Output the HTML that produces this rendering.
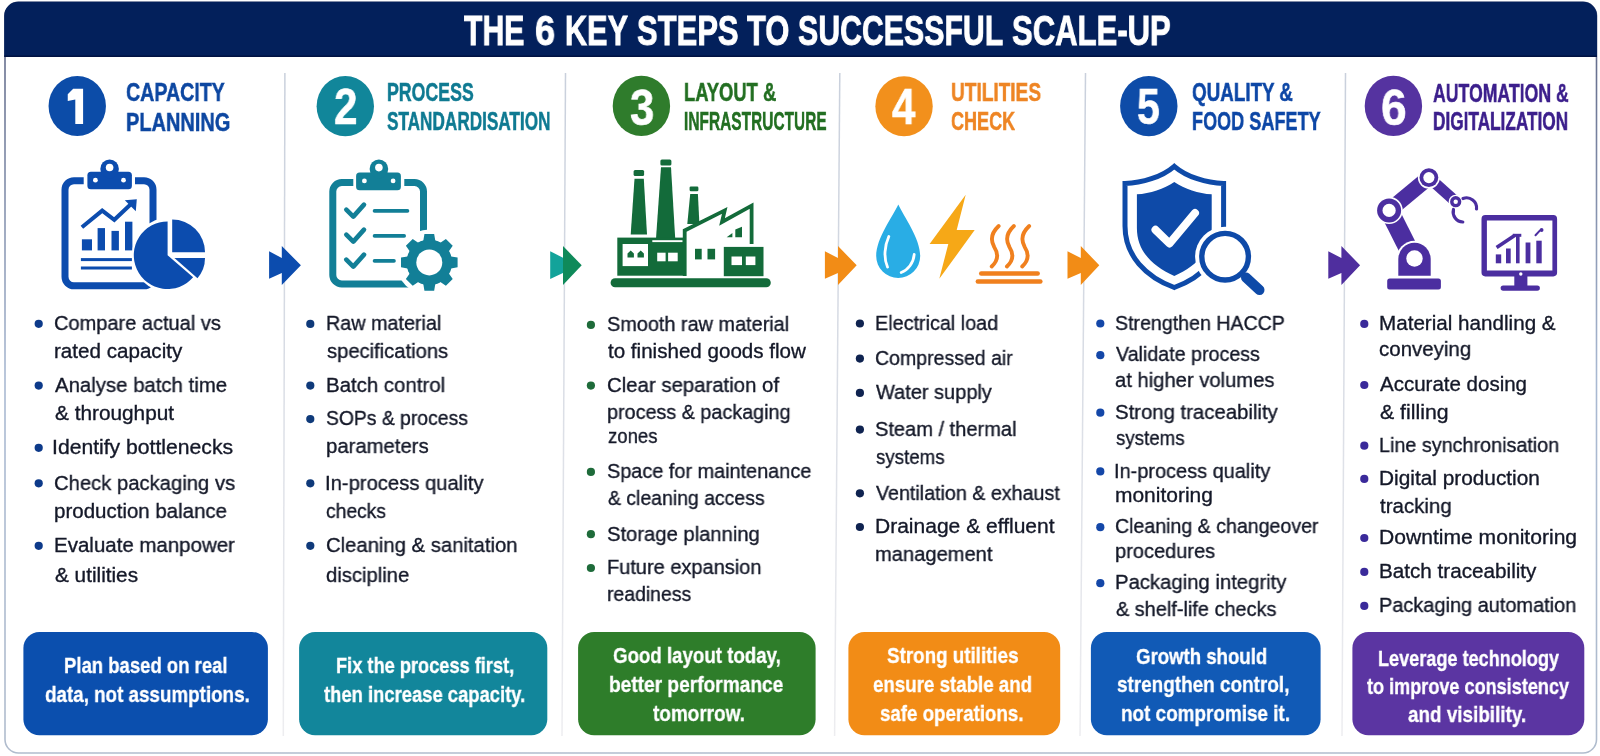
<!DOCTYPE html><html><head><meta charset="utf-8"><style>
html,body{margin:0;padding:0;width:1600px;height:756px;overflow:hidden;background:#ffffff;}
.t{position:absolute;white-space:pre;line-height:1;transform-origin:0 0;font-family:"Liberation Sans", sans-serif;will-change:transform;}
svg{position:absolute;left:0;top:0;}
</style></head><body>
<svg width="1600" height="756" viewBox="0 0 1600 756">
<defs><linearGradient id="dg" x1="0" y1="0" x2="0" y2="1"><stop offset="0" stop-color="#c9d0dc"/><stop offset="1" stop-color="#ededf0"/></linearGradient><linearGradient id="fg" x1="0" y1="0" x2="0" y2="1"><stop offset="0" stop-color="#5a6282"/><stop offset="0.5" stop-color="#a9b9d2"/><stop offset="1" stop-color="#b0bccd"/></linearGradient></defs>
<rect x="5" y="2.3" width="1591.5" height="750.7" rx="13.5" fill="#ffffff" stroke="url(#fg)" stroke-width="1.6"/>
<path d="M4.2 56.5 V15.8 A14 14 0 0 1 18.2 1.8 H1583 A14 14 0 0 1 1597 15.8 V56.5 Z" fill="#03205b"/>
<rect x="4.2" y="55.5" width="1592.8" height="1.5" fill="#011242"/>
<polygon points="284.15,73 285.65,73 284.05,736 282.55,736" fill="url(#dg)"/>
<polygon points="564.75,73 566.25,73 562.75,736 561.25,736" fill="url(#dg)"/>
<polygon points="839.05,73 840.55,73 835.35,736 833.85,736" fill="url(#dg)"/>
<polygon points="1084.75,73 1086.25,73 1080.75,736 1079.25,736" fill="url(#dg)"/>
<polygon points="1344.75,73 1346.25,73 1342.75,736 1341.25,736" fill="url(#dg)"/>
<ellipse cx="77.25" cy="106.0" rx="28.7" ry="30.1" fill="#0c4ca8"/>
<ellipse cx="345.3" cy="106.15" rx="28.7" ry="30.1" fill="#11869a"/>
<ellipse cx="641.4" cy="105.9" rx="28.7" ry="30.1" fill="#2f7c2c"/>
<ellipse cx="904.05" cy="106.25" rx="28.7" ry="30.1" fill="#f2901c"/>
<ellipse cx="1148.8" cy="106.1" rx="28.7" ry="30.1" fill="#0e4ca8"/>
<ellipse cx="1393.4" cy="105.9" rx="28.7" ry="30.1" fill="#5533a0"/>
<polygon points="73.2,88.75 83.1,88.75 83.1,124 75.3,124 75.3,99.6 67.75,101 67.75,94.2" fill="#fff"/>
<rect x="23.4" y="632" width="244.5" height="103.2" rx="16" fill="#0b4fae"/>
<rect x="299.1" y="632" width="248.2" height="103.2" rx="16" fill="#12869b"/>
<rect x="578.1" y="632" width="237.5" height="103.2" rx="16" fill="#2e7d2a"/>
<rect x="848.4" y="632" width="211.8" height="103.2" rx="16" fill="#f28c16"/>
<rect x="1090.9" y="632" width="229.7" height="103.2" rx="16" fill="#115ab6"/>
<rect x="1352.4" y="632" width="231.9" height="103.2" rx="16" fill="#5b35a2"/>
<circle cx="38.7" cy="323.8" r="4.1" fill="#0d3a8a"/>
<circle cx="38.7" cy="385.6" r="4.1" fill="#0d3a8a"/>
<circle cx="38.7" cy="447.8" r="4.1" fill="#0d3a8a"/>
<circle cx="38.7" cy="483.3" r="4.1" fill="#0d3a8a"/>
<circle cx="38.7" cy="545.8" r="4.1" fill="#0d3a8a"/>
<circle cx="310.3" cy="323.9" r="4.1" fill="#0f3a7a"/>
<circle cx="310.3" cy="385.6" r="4.1" fill="#0f3a7a"/>
<circle cx="310.3" cy="419.1" r="4.1" fill="#0f3a7a"/>
<circle cx="310.3" cy="483.3" r="4.1" fill="#0f3a7a"/>
<circle cx="310.3" cy="545.8" r="4.1" fill="#0f3a7a"/>
<circle cx="590.9" cy="324.9" r="4.1" fill="#1e6b3a"/>
<circle cx="590.9" cy="385.6" r="4.1" fill="#1e6b3a"/>
<circle cx="590.9" cy="471.9" r="4.1" fill="#1e6b3a"/>
<circle cx="590.9" cy="534.2" r="4.1" fill="#1e6b3a"/>
<circle cx="590.9" cy="568.0" r="4.1" fill="#1e6b3a"/>
<circle cx="859.9" cy="323.5" r="4.1" fill="#0f2350"/>
<circle cx="859.9" cy="358.6" r="4.1" fill="#0f2350"/>
<circle cx="859.9" cy="392.9" r="4.1" fill="#0f2350"/>
<circle cx="859.9" cy="429.6" r="4.1" fill="#0f2350"/>
<circle cx="859.9" cy="493.3" r="4.1" fill="#0f2350"/>
<circle cx="859.9" cy="527.0" r="4.1" fill="#0f2350"/>
<circle cx="1100.3" cy="323.5" r="4.1" fill="#1447a8"/>
<circle cx="1100.3" cy="355.2" r="4.1" fill="#1447a8"/>
<circle cx="1100.3" cy="412.7" r="4.1" fill="#1447a8"/>
<circle cx="1100.3" cy="471.4" r="4.1" fill="#1447a8"/>
<circle cx="1100.3" cy="527.2" r="4.1" fill="#1447a8"/>
<circle cx="1100.3" cy="583.2" r="4.1" fill="#1447a8"/>
<circle cx="1364.3" cy="323.9" r="4.1" fill="#3a2a9a"/>
<circle cx="1364.3" cy="385.0" r="4.1" fill="#3a2a9a"/>
<circle cx="1364.3" cy="445.7" r="4.1" fill="#3a2a9a"/>
<circle cx="1364.3" cy="478.9" r="4.1" fill="#3a2a9a"/>
<circle cx="1364.3" cy="538.0" r="4.1" fill="#3a2a9a"/>
<circle cx="1364.3" cy="571.9" r="4.1" fill="#3a2a9a"/>
<circle cx="1364.3" cy="605.9" r="4.1" fill="#3a2a9a"/>
<polygon points="269.1,251.3 281.8,258 281.8,246.1 300.9,265.2 281.8,285 281.8,272.9 269.1,278.7" fill="#0c4cae"/>
<polygon points="550.2,251.3 564.0,258.2 564.0,272.5 550.2,279" fill="#13a39a"/>
<polygon points="563.0,246.1 581.7,265.2 563.0,285" fill="#0f8a5a"/>
<polygon points="824.9,251.3 838.0,258 838.0,246.1 856.7,265.2 838.0,285 838.0,272.9 824.9,278.7" fill="#f28c16"/>
<polygon points="1067.5,251.3 1080.8,258 1080.8,246.1 1099.3,265.2 1080.8,285 1080.8,272.9 1067.5,278.7" fill="#f28c16"/>
<polygon points="1328.3,251.3 1341.4,258 1341.4,246.1 1360.1,265.2 1341.4,285 1341.4,272.9 1328.3,278.7" fill="#4f2e9e"/>
<g fill="none" stroke="#0c4cae" stroke-width="7" stroke-linecap="butt"><path d="M83.7 180.7 H74 A9 9 0 0 0 65 189.7 V276.8 A9 9 0 0 0 74 285.8 H144 A9 9 0 0 0 153 276.8 V189.7 A9 9 0 0 0 144 180.7 H135"/></g>
<rect x="87.4" y="171.7" width="44.5" height="17.6" rx="3.5" fill="#0c4cae"/>
<circle cx="109.6" cy="168.9" r="9.3" fill="#0c4cae"/><circle cx="109.6" cy="167.5" r="3.8" fill="#fff"/>
<circle cx="95.4" cy="180.2" r="2.4" fill="#fff"/><circle cx="123.5" cy="180.2" r="2.4" fill="#fff"/>
<rect x="81.9" y="239.3" width="10.1" height="11.1" fill="#0c4cae"/>
<rect x="97.6" y="228.1" width="7.4" height="22.3" fill="#0c4cae"/>
<rect x="111.5" y="230.9" width="7.4" height="19.5" fill="#0c4cae"/>
<rect x="125" y="221.7" width="7.4" height="28.7" fill="#0c4cae"/>
<polyline points="81.9,227.2 102.2,210.6 114.3,219.8 130.5,204.5" fill="none" stroke="#0c4cae" stroke-width="4" stroke-linejoin="miter"/>
<polygon points="136.8,199.2 124.8,200.2 135.8,211.2" fill="#0c4cae"/>
<rect x="80.9" y="258.1" width="51" height="3" fill="#0c4cae"/><rect x="80.9" y="266.5" width="51" height="3" fill="#0c4cae"/>
<circle cx="169.5" cy="255" r="37.5" fill="#fff"/>
<path d="M167.6,255.2 L193.11,277.37 A33.8 33.8 0 1 1 167.60,221.40 Z" fill="#0c4cae"/>
<path d="M172.2,252.2 L172.20,219.40 A32.8 32.8 0 0 1 205.00,252.20 Z" fill="#0c4cae"/>
<path d="M174.4,258.1 L205.00,258.10 A30.6 30.6 0 0 1 197.49,278.18 Z" fill="#0c4cae"/>
<g fill="none" stroke="#127f97" stroke-width="7"><path d="M353.3 182.6 H341.8 A9 9 0 0 0 332.8 191.6 V274.9 A9 9 0 0 0 341.8 283.9 H414.5 A9 9 0 0 0 423.5 274.9 V191.6 A9 9 0 0 0 414.5 182.6 H404.3"/></g>
<rect x="356.1" y="172.6" width="44.8" height="17.6" rx="3.5" fill="#127f97"/>
<circle cx="378.9" cy="168.9" r="9.3" fill="#127f97"/><circle cx="378.9" cy="167.6" r="3.8" fill="#fff"/>
<circle cx="364.4" cy="180.9" r="2.4" fill="#fff"/><circle cx="393.1" cy="180.9" r="2.4" fill="#fff"/>
<polyline points="346.3,209.6 353.3,216.6 364,204.6" fill="none" stroke="#127f97" stroke-width="4.6" stroke-linecap="round" stroke-linejoin="round"/>
<polyline points="346.3,234.6 353.3,241.6 364,229.6" fill="none" stroke="#127f97" stroke-width="4.6" stroke-linecap="round" stroke-linejoin="round"/>
<polyline points="346.3,259.6 353.3,266.6 364,254.6" fill="none" stroke="#127f97" stroke-width="4.6" stroke-linecap="round" stroke-linejoin="round"/>
<line x1="374.5" y1="210.9" x2="407.5" y2="210.9" stroke="#127f97" stroke-width="3.6" stroke-linecap="round"/>
<line x1="374.5" y1="235.9" x2="404.2" y2="235.9" stroke="#127f97" stroke-width="3.6" stroke-linecap="round"/>
<line x1="374.5" y1="260.9" x2="394" y2="260.9" stroke="#127f97" stroke-width="3.6" stroke-linecap="round"/>
<circle cx="429.3" cy="262.4" r="33" fill="#fff"/>
<polygon points="423.30,240.72 424.44,234.11 434.16,234.11 435.30,240.72 440.39,242.82 445.87,238.97 452.73,245.83 448.88,251.31 450.98,256.40 457.59,257.54 457.59,267.26 450.98,268.40 448.88,273.49 452.73,278.97 445.87,285.83 440.39,281.98 435.30,284.08 434.16,290.69 424.44,290.69 423.30,284.08 418.21,281.98 412.73,285.83 405.87,278.97 409.72,273.49 407.62,268.40 401.01,267.26 401.01,257.54 407.62,256.40 409.72,251.31 405.87,245.83 412.73,238.97 418.21,242.82" fill="#127f97"/>
<circle cx="429.3" cy="262.4" r="22.8" fill="#127f97"/><circle cx="429.3" cy="262.4" r="13" fill="#fff"/>
<rect x="610.6" y="278.2" width="160.2" height="9" rx="4.5" fill="#136b3a"/>
<polygon points="634.5,178.8 643.8,178.8 647,234.5 630.7,234.5" fill="#136b3a"/><rect x="633.6" y="170.1" width="10.5" height="5.8" rx="1.5" fill="#136b3a"/>
<polygon points="661,167.3 671,167.3 675.2,238.5 656,238.5" fill="#136b3a"/><rect x="660.4" y="159.6" width="11" height="5.8" rx="1.5" fill="#136b3a"/>
<polygon points="690.2,194.1 697.9,194.1 699.4,224 687.3,224" fill="#136b3a"/><rect x="689.6" y="186.5" width="8.8" height="4.8" rx="1.3" fill="#136b3a"/>
<rect x="617.3" y="237.6" width="68.5" height="38.1" fill="#136b3a"/>
<rect x="652.3" y="240.2" width="30.3" height="1.9" fill="#fff"/>
<rect x="622.6" y="244" width="25.4" height="22.1" fill="#fff"/>
<path d="M627.5 257.5 v-4 l3.2 -3 l3.2 3 v4 z M637.5 257.5 v-4 l3.2 -3 l3.2 3 v4 z" fill="#136b3a"/>
<rect x="657.2" y="252.7" width="8.4" height="8.6" fill="#fff"/><rect x="668.1" y="252.7" width="9.6" height="8.6" fill="#fff"/>
<path d="M684.7 276 V230.5 L724.7 210.4 L722 222 L751.6 205.7 L751.6 244" fill="none" stroke="#136b3a" stroke-width="3.8" stroke-linejoin="miter"/>
<rect x="695" y="248.8" width="6.7" height="10.6" fill="#136b3a"/><rect x="707.5" y="248.8" width="7.6" height="10.6" fill="#136b3a"/>
<polygon points="726.7,237.3 732.4,233 732.4,237.3" fill="#136b3a"/><polygon points="735.3,237.3 735.3,229.5 742,226.8 742,237.3" fill="#136b3a"/>
<rect x="723.8" y="246.9" width="39.7" height="29.3" fill="#136b3a"/>
<rect x="731.5" y="256.5" width="10.5" height="8.6" fill="#fff"/><rect x="745.8" y="256.5" width="9.6" height="8.6" fill="#fff"/>
<path d="M898.3 204.4 C893 216 876.2 238 876.2 256 A22 22 0 0 0 920.2 256 C920.2 238 903.6 216 898.3 204.4 Z" fill="#29ade5"/>
<path d="M888.8 236.5 C884.5 246 883.5 258 887.5 267" fill="none" stroke="#fff" stroke-width="2.8" stroke-linecap="round"/>
<path d="M914.2 254.5 C913.5 263 908 270 901.2 272.5" fill="none" stroke="#fff" stroke-width="2.8" stroke-linecap="round"/>
<polygon points="965.7,194.7 929.6,244 948.3,244 939.3,278.8 974.7,230.1 956.7,230.1" fill="#f6a817"/>
<path d="M998.7,226 C992.2,232 989.7,239 994.2,247 C998.7,254 997.7,261 991.7,266.5" fill="none" stroke="#f0801e" stroke-width="3.8" stroke-linecap="round"/>
<path d="M1013.9,226 C1007.4,232 1004.9,239 1009.4,247 C1013.9,254 1012.9,261 1006.9,266.5" fill="none" stroke="#f0801e" stroke-width="3.8" stroke-linecap="round"/>
<path d="M1029.2,226 C1022.7,232 1020.2,239 1024.7,247 C1029.2,254 1028.2,261 1022.2,266.5" fill="none" stroke="#f0801e" stroke-width="3.8" stroke-linecap="round"/>
<line x1="981.2" y1="273.5" x2="1037.7" y2="273.5" stroke="#f0801e" stroke-width="4.4" stroke-linecap="round"/>
<line x1="977.8" y1="281.5" x2="1040.4" y2="281.5" stroke="#f0801e" stroke-width="4.4" stroke-linecap="round"/>
<path d="M1174.3 166.3 C1162 177 1142 183 1125 183.5 V226 C1125 256 1146 277 1174.3 287.5 C1202.6 277 1223.6 256 1223.6 226 V183.5 C1206.6 183 1186.6 177 1174.3 166.3 Z" fill="none" stroke="#0e4aa8" stroke-width="5"/>
<path d="M1174.3 181.9 C1164 189 1150 193.5 1136.9 194.3 V228 C1136.9 251 1152 266 1174.3 275.9 C1196.6 266 1211.7 251 1211.7 228 V194.3 C1198.6 193.5 1184.6 189 1174.3 181.9 Z" fill="#0e4aa8"/>
<polyline points="1155.5,229.8 1169.5,243.5 1195,213" fill="none" stroke="#fff" stroke-width="8" stroke-linecap="round" stroke-linejoin="round"/>
<circle cx="1225.1" cy="256.7" r="30" fill="#fff"/>
<line x1="1243" y1="275" x2="1260.8" y2="291.5" stroke="#fff" stroke-width="14" stroke-linecap="round"/>
<circle cx="1225.1" cy="256.7" r="23.3" fill="none" stroke="#0e4aa8" stroke-width="5.4"/>
<line x1="1241.5" y1="273" x2="1245.5" y2="277" stroke="#0e4aa8" stroke-width="4.5"/>
<line x1="1246" y1="277.5" x2="1259.5" y2="290" stroke="#0e4aa8" stroke-width="10" stroke-linecap="round"/>
<rect x="1387.2" y="278.5" width="53.7" height="11.1" rx="2.5" fill="#4b2ea0"/>
<line x1="1410" y1="252" x2="1389.1" y2="210.4" stroke="#4b2ea0" stroke-width="19" stroke-linecap="butt"/>
<path d="M1396.3 277 V259 A18.2 18.2 0 0 1 1432.7 259 V277 Z" fill="#fff"/>
<path d="M1398.3 275.7 V259 A16.2 16.2 0 0 1 1430.7 259 V275.7 Z" fill="#4b2ea0"/>
<circle cx="1414.5" cy="258.5" r="8.2" fill="#fff"/>
<line x1="1389.1" y1="210.4" x2="1428.9" y2="177.6" stroke="#4b2ea0" stroke-width="15.5" stroke-linecap="butt"/>
<line x1="1428.9" y1="177.6" x2="1455.7" y2="201.7" stroke="#4b2ea0" stroke-width="11" stroke-linecap="butt"/>
<circle cx="1389.1" cy="210.4" r="13.6" fill="#fff"/><circle cx="1389.1" cy="210.4" r="12" fill="#4b2ea0"/><circle cx="1389.1" cy="210.4" r="6.6" fill="#fff"/>
<circle cx="1428.9" cy="177.6" r="11" fill="#fff"/><circle cx="1428.9" cy="177.6" r="9.4" fill="#4b2ea0"/><circle cx="1428.9" cy="177.6" r="5.6" fill="#fff"/>
<circle cx="1455.7" cy="201.7" r="7" fill="#fff"/><circle cx="1455.7" cy="201.7" r="5.6" fill="#4b2ea0"/><circle cx="1455.7" cy="201.7" r="2.2" fill="#fff"/>
<path d="M1463 198.5 A10 10 0 0 1 1476.5 209" fill="none" stroke="#4b2ea0" stroke-width="3.2" stroke-linecap="round"/>
<path d="M1453.5 209.5 A10 10 0 0 0 1462.8 222" fill="none" stroke="#4b2ea0" stroke-width="3.2" stroke-linecap="round"/>
<path d="M1485.5 215.1 H1553.3 A3.8 3.8 0 0 1 1557.1 218.9 V272.6 A3.8 3.8 0 0 1 1553.3 276.4 H1485.3 A3.8 3.8 0 0 1 1481.5 272.6 V218.9 A3.8 3.8 0 0 1 1485.3 215.1 Z M1486.9 220.5 V270.5 H1552.4 V220.5 Z" fill="#4b2ea0" fill-rule="evenodd"/>
<rect x="1514.3" y="276" width="13.1" height="10" fill="#4b2ea0"/><rect x="1500.6" y="285.4" width="39.3" height="5.3" rx="2.6" fill="#4b2ea0"/>
<circle cx="1520.8" cy="274" r="1.7" fill="#fff"/>
<rect x="1495.8" y="254.4" width="5.4" height="8.9" fill="#4b2ea0"/>
<rect x="1506.0" y="248.5" width="4.7" height="14.8" fill="#4b2ea0"/>
<rect x="1516.0" y="235.4" width="3.6" height="27.9" fill="#4b2ea0"/>
<rect x="1525.6" y="242.5" width="4.8" height="20.8" fill="#4b2ea0"/>
<rect x="1536.3" y="240.7" width="5.4" height="22.6" fill="#4b2ea0"/>
<line x1="1496.6" y1="247.6" x2="1515" y2="235.2" stroke="#4b2ea0" stroke-width="3.6"/>
<rect x="1512.8" y="233.8" width="8.5" height="3" fill="#4b2ea0"/>
<path d="M1535.5 235.2 L1539.8 230.6" stroke="#4b2ea0" stroke-width="2" stroke-linecap="round"/><circle cx="1541.6" cy="230" r="1.9" fill="#4b2ea0"/>
</svg>
<div class="t" style="left:463.90px;top:9px;font-size:43px;font-weight:700;color:#ffffff;-webkit-text-stroke:0.9px #ffffff;transform:scaleX(0.7024);">THE</div>
<div class="t" style="left:534.56px;top:9px;font-size:43px;font-weight:700;color:#ffffff;-webkit-text-stroke:0.9px #ffffff;transform:scaleX(0.8409);">6</div>
<div class="t" style="left:564.87px;top:9px;font-size:43px;font-weight:700;color:#ffffff;-webkit-text-stroke:0.9px #ffffff;transform:scaleX(0.7128);">KEY</div>
<div class="t" style="left:637.18px;top:9px;font-size:43px;font-weight:700;color:#ffffff;-webkit-text-stroke:0.9px #ffffff;transform:scaleX(0.7201);">STEPS</div>
<div class="t" style="left:747.00px;top:9px;font-size:43px;font-weight:700;color:#ffffff;-webkit-text-stroke:0.9px #ffffff;transform:scaleX(0.7172);">TO</div>
<div class="t" style="left:797.70px;top:9px;font-size:43px;font-weight:700;color:#ffffff;-webkit-text-stroke:0.9px #ffffff;transform:scaleX(0.7041);">SUCCESSFUL</div>
<div class="t" style="left:1011.68px;top:9px;font-size:43px;font-weight:700;color:#ffffff;-webkit-text-stroke:0.9px #ffffff;transform:scaleX(0.7225);">SCALE-UP</div>
<div class="t" style="left:334.16px;top:82px;font-size:50px;font-weight:700;color:#fff;-webkit-text-stroke:0.6px #fff;transform:scaleX(0.8440)">2</div>
<div class="t" style="left:629.73px;top:83px;font-size:50px;font-weight:700;color:#fff;-webkit-text-stroke:0.6px #fff;transform:scaleX(0.8720)">3</div>
<div class="t" style="left:891.50px;top:82px;font-size:50px;font-weight:700;color:#fff;-webkit-text-stroke:0.6px #fff;transform:scaleX(0.8429)">4</div>
<div class="t" style="left:1137.38px;top:82px;font-size:50px;font-weight:700;color:#fff;-webkit-text-stroke:0.6px #fff;transform:scaleX(0.8192)">5</div>
<div class="t" style="left:1381.38px;top:83px;font-size:50px;font-weight:700;color:#fff;-webkit-text-stroke:0.6px #fff;transform:scaleX(0.9200)">6</div>
<div class="t" style="left:126.15px;top:79px;font-size:26px;font-weight:700;color:#0d47a1;-webkit-text-stroke:0.5px #0d47a1;transform:scaleX(0.7546);">CAPACITY</div>
<div class="t" style="left:126.23px;top:109px;font-size:26px;font-weight:700;color:#0d47a1;-webkit-text-stroke:0.5px #0d47a1;transform:scaleX(0.7687);">PLANNING</div>
<div class="t" style="left:386.62px;top:79px;font-size:26px;font-weight:700;color:#0f7a92;-webkit-text-stroke:0.5px #0f7a92;transform:scaleX(0.6825);">PROCESS</div>
<div class="t" style="left:387.30px;top:108px;font-size:26px;font-weight:700;color:#0f7a92;-webkit-text-stroke:0.5px #0f7a92;transform:scaleX(0.6606);">STANDARDISATION</div>
<div class="t" style="left:684.09px;top:79px;font-size:26px;font-weight:700;color:#236f22;-webkit-text-stroke:0.5px #236f22;transform:scaleX(0.7070);">LAYOUT &amp;</div>
<div class="t" style="left:684.21px;top:108px;font-size:26px;font-weight:700;color:#236f22;-webkit-text-stroke:0.5px #236f22;transform:scaleX(0.5950);">INFRASTRUCTURE</div>
<div class="t" style="left:950.52px;top:79px;font-size:26px;font-weight:700;color:#ee8524;-webkit-text-stroke:0.5px #ee8524;transform:scaleX(0.7335);">UTILITIES</div>
<div class="t" style="left:950.56px;top:108px;font-size:26px;font-weight:700;color:#ee8524;-webkit-text-stroke:0.5px #ee8524;transform:scaleX(0.6929);">CHECK</div>
<div class="t" style="left:1191.78px;top:79px;font-size:26px;font-weight:700;color:#0d47a6;-webkit-text-stroke:0.5px #0d47a6;transform:scaleX(0.7232);">QUALITY &amp;</div>
<div class="t" style="left:1191.80px;top:108px;font-size:26px;font-weight:700;color:#0d47a6;-webkit-text-stroke:0.5px #0d47a6;transform:scaleX(0.6957);">FOOD SAFETY</div>
<div class="t" style="left:1433.30px;top:80px;font-size:26px;font-weight:700;color:#3c1f8c;-webkit-text-stroke:0.5px #3c1f8c;transform:scaleX(0.6794);">AUTOMATION &amp;</div>
<div class="t" style="left:1432.64px;top:108px;font-size:26px;font-weight:700;color:#3c1f8c;-webkit-text-stroke:0.5px #3c1f8c;transform:scaleX(0.6619);">DIGITALIZATION</div>
<div class="t" style="left:53.52px;top:313px;font-size:20.5px;font-weight:400;color:#141828;-webkit-text-stroke:0.35px #141828;transform:scaleX(0.9759);">Compare actual vs</div>
<div class="t" style="left:53.50px;top:341px;font-size:20.5px;font-weight:400;color:#141828;-webkit-text-stroke:0.35px #141828;transform:scaleX(1.0047);">rated capacity</div>
<div class="t" style="left:54.50px;top:375px;font-size:20.5px;font-weight:400;color:#141828;-webkit-text-stroke:0.35px #141828;transform:scaleX(0.9936);">Analyse batch time</div>
<div class="t" style="left:54.50px;top:403px;font-size:20.5px;font-weight:400;color:#141828;-webkit-text-stroke:0.35px #141828;transform:scaleX(1.0144);">&amp; throughput</div>
<div class="t" style="left:52.44px;top:437px;font-size:20.5px;font-weight:400;color:#141828;-webkit-text-stroke:0.35px #141828;transform:scaleX(1.0318);">Identify bottlenecks</div>
<div class="t" style="left:53.51px;top:473px;font-size:20.5px;font-weight:400;color:#141828;-webkit-text-stroke:0.35px #141828;transform:scaleX(0.9874);">Check packaging vs</div>
<div class="t" style="left:53.50px;top:501px;font-size:20.5px;font-weight:400;color:#141828;-webkit-text-stroke:0.35px #141828;transform:scaleX(0.9988);">production balance</div>
<div class="t" style="left:53.50px;top:535px;font-size:20.5px;font-weight:400;color:#141828;-webkit-text-stroke:0.35px #141828;transform:scaleX(0.9983);">Evaluate manpower</div>
<div class="t" style="left:54.50px;top:565px;font-size:20.5px;font-weight:400;color:#141828;-webkit-text-stroke:0.35px #141828;transform:scaleX(1.0122);">&amp; utilities</div>
<div class="t" style="left:325.74px;top:313px;font-size:20.5px;font-weight:400;color:#141828;-webkit-text-stroke:0.35px #141828;transform:scaleX(0.9636);">Raw material</div>
<div class="t" style="left:326.70px;top:341px;font-size:20.5px;font-weight:400;color:#141828;-webkit-text-stroke:0.35px #141828;transform:scaleX(0.9846);">specifications</div>
<div class="t" style="left:325.70px;top:375px;font-size:20.5px;font-weight:400;color:#141828;-webkit-text-stroke:0.35px #141828;transform:scaleX(0.9958);">Batch control</div>
<div class="t" style="left:325.76px;top:408px;font-size:20.5px;font-weight:400;color:#141828;-webkit-text-stroke:0.35px #141828;transform:scaleX(0.9430);">SOPs &amp; process</div>
<div class="t" style="left:325.71px;top:436px;font-size:20.5px;font-weight:400;color:#141828;-webkit-text-stroke:0.35px #141828;transform:scaleX(0.9902);">parameters</div>
<div class="t" style="left:324.73px;top:473px;font-size:20.5px;font-weight:400;color:#141828;-webkit-text-stroke:0.35px #141828;transform:scaleX(0.9862);">In-process quality</div>
<div class="t" style="left:325.76px;top:501px;font-size:20.5px;font-weight:400;color:#141828;-webkit-text-stroke:0.35px #141828;transform:scaleX(0.9403);">checks</div>
<div class="t" style="left:325.71px;top:535px;font-size:20.5px;font-weight:400;color:#141828;-webkit-text-stroke:0.35px #141828;transform:scaleX(0.9885);">Cleaning &amp; sanitation</div>
<div class="t" style="left:325.71px;top:565px;font-size:20.5px;font-weight:400;color:#141828;-webkit-text-stroke:0.35px #141828;transform:scaleX(0.9867);">discipline</div>
<div class="t" style="left:606.53px;top:314px;font-size:20.5px;font-weight:400;color:#141828;-webkit-text-stroke:0.35px #141828;transform:scaleX(0.9688);">Smooth raw material</div>
<div class="t" style="left:607.50px;top:341px;font-size:20.5px;font-weight:400;color:#141828;-webkit-text-stroke:0.35px #141828;transform:scaleX(1.0036);">to finished goods flow</div>
<div class="t" style="left:606.51px;top:375px;font-size:20.5px;font-weight:400;color:#141828;-webkit-text-stroke:0.35px #141828;transform:scaleX(0.9936);">Clear separation of</div>
<div class="t" style="left:606.54px;top:402px;font-size:20.5px;font-weight:400;color:#141828;-webkit-text-stroke:0.35px #141828;transform:scaleX(0.9640);">process &amp; packaging</div>
<div class="t" style="left:607.50px;top:426px;font-size:20.5px;font-weight:400;color:#141828;-webkit-text-stroke:0.35px #141828;transform:scaleX(0.9037);">zones</div>
<div class="t" style="left:606.53px;top:461px;font-size:20.5px;font-weight:400;color:#141828;-webkit-text-stroke:0.35px #141828;transform:scaleX(0.9689);">Space for maintenance</div>
<div class="t" style="left:607.50px;top:488px;font-size:20.5px;font-weight:400;color:#141828;-webkit-text-stroke:0.35px #141828;transform:scaleX(0.9479);">&amp; cleaning access</div>
<div class="t" style="left:606.51px;top:524px;font-size:20.5px;font-weight:400;color:#141828;-webkit-text-stroke:0.35px #141828;transform:scaleX(0.9856);">Storage planning</div>
<div class="t" style="left:606.52px;top:557px;font-size:20.5px;font-weight:400;color:#141828;-webkit-text-stroke:0.35px #141828;transform:scaleX(0.9752);">Future expansion</div>
<div class="t" style="left:606.55px;top:584px;font-size:20.5px;font-weight:400;color:#141828;-webkit-text-stroke:0.35px #141828;transform:scaleX(0.9466);">readiness</div>
<div class="t" style="left:875.23px;top:313px;font-size:20.5px;font-weight:400;color:#141828;-webkit-text-stroke:0.35px #141828;transform:scaleX(0.9651);">Electrical load</div>
<div class="t" style="left:875.25px;top:348px;font-size:20.5px;font-weight:400;color:#141828;-webkit-text-stroke:0.35px #141828;transform:scaleX(0.9521);">Compressed air</div>
<div class="t" style="left:876.20px;top:382px;font-size:20.5px;font-weight:400;color:#141828;-webkit-text-stroke:0.35px #141828;transform:scaleX(0.9748);">Water supply</div>
<div class="t" style="left:875.22px;top:419px;font-size:20.5px;font-weight:400;color:#141828;-webkit-text-stroke:0.35px #141828;transform:scaleX(0.9776);">Steam / thermal</div>
<div class="t" style="left:876.20px;top:447px;font-size:20.5px;font-weight:400;color:#141828;-webkit-text-stroke:0.35px #141828;transform:scaleX(0.9120);">systems</div>
<div class="t" style="left:876.20px;top:483px;font-size:20.5px;font-weight:400;color:#141828;-webkit-text-stroke:0.35px #141828;transform:scaleX(0.9599);">Ventilation &amp; exhaust</div>
<div class="t" style="left:875.17px;top:516px;font-size:20.5px;font-weight:400;color:#141828;-webkit-text-stroke:0.35px #141828;transform:scaleX(1.0253);">Drainage &amp; effluent</div>
<div class="t" style="left:875.22px;top:544px;font-size:20.5px;font-weight:400;color:#141828;-webkit-text-stroke:0.35px #141828;transform:scaleX(0.9815);">management</div>
<div class="t" style="left:1114.84px;top:313px;font-size:20.5px;font-weight:400;color:#141828;-webkit-text-stroke:0.35px #141828;transform:scaleX(0.9557);">Strengthen HACCP</div>
<div class="t" style="left:1115.80px;top:344px;font-size:20.5px;font-weight:400;color:#141828;-webkit-text-stroke:0.35px #141828;transform:scaleX(0.9587);">Validate process</div>
<div class="t" style="left:1114.81px;top:370px;font-size:20.5px;font-weight:400;color:#141828;-webkit-text-stroke:0.35px #141828;transform:scaleX(0.9856);">at higher volumes</div>
<div class="t" style="left:1114.81px;top:402px;font-size:20.5px;font-weight:400;color:#141828;-webkit-text-stroke:0.35px #141828;transform:scaleX(0.9920);">Strong traceability</div>
<div class="t" style="left:1115.80px;top:428px;font-size:20.5px;font-weight:400;color:#141828;-webkit-text-stroke:0.35px #141828;transform:scaleX(0.9120);">systems</div>
<div class="t" style="left:1113.86px;top:461px;font-size:20.5px;font-weight:400;color:#141828;-webkit-text-stroke:0.35px #141828;transform:scaleX(0.9723);">In-process quality</div>
<div class="t" style="left:1114.78px;top:485px;font-size:20.5px;font-weight:400;color:#141828;-webkit-text-stroke:0.35px #141828;transform:scaleX(1.0223);">monitoring</div>
<div class="t" style="left:1114.85px;top:516px;font-size:20.5px;font-weight:400;color:#141828;-webkit-text-stroke:0.35px #141828;transform:scaleX(0.9547);">Cleaning &amp; changeover</div>
<div class="t" style="left:1114.82px;top:541px;font-size:20.5px;font-weight:400;color:#141828;-webkit-text-stroke:0.35px #141828;transform:scaleX(0.9762);">procedures</div>
<div class="t" style="left:1114.81px;top:572px;font-size:20.5px;font-weight:400;color:#141828;-webkit-text-stroke:0.35px #141828;transform:scaleX(0.9895);">Packaging integrity</div>
<div class="t" style="left:1115.80px;top:599px;font-size:20.5px;font-weight:400;color:#141828;-webkit-text-stroke:0.35px #141828;transform:scaleX(0.9709);">&amp; shelf-life checks</div>
<div class="t" style="left:1379.19px;top:313px;font-size:20.5px;font-weight:400;color:#141828;-webkit-text-stroke:0.35px #141828;transform:scaleX(1.0063);">Material handling &amp;</div>
<div class="t" style="left:1379.20px;top:339px;font-size:20.5px;font-weight:400;color:#141828;-webkit-text-stroke:0.35px #141828;transform:scaleX(0.9978);">conveying</div>
<div class="t" style="left:1380.20px;top:374px;font-size:20.5px;font-weight:400;color:#141828;-webkit-text-stroke:0.35px #141828;transform:scaleX(1.0000);">Accurate dosing</div>
<div class="t" style="left:1380.20px;top:402px;font-size:20.5px;font-weight:400;color:#141828;-webkit-text-stroke:0.35px #141828;transform:scaleX(1.0369);">&amp; filling</div>
<div class="t" style="left:1379.24px;top:435px;font-size:20.5px;font-weight:400;color:#141828;-webkit-text-stroke:0.35px #141828;transform:scaleX(0.9643);">Line synchronisation</div>
<div class="t" style="left:1379.18px;top:468px;font-size:20.5px;font-weight:400;color:#141828;-webkit-text-stroke:0.35px #141828;transform:scaleX(1.0159);">Digital production</div>
<div class="t" style="left:1380.20px;top:496px;font-size:20.5px;font-weight:400;color:#141828;-webkit-text-stroke:0.35px #141828;transform:scaleX(0.9972);">tracking</div>
<div class="t" style="left:1379.17px;top:527px;font-size:20.5px;font-weight:400;color:#141828;-webkit-text-stroke:0.35px #141828;transform:scaleX(1.0288);">Downtime monitoring</div>
<div class="t" style="left:1379.19px;top:561px;font-size:20.5px;font-weight:400;color:#141828;-webkit-text-stroke:0.35px #141828;transform:scaleX(1.0084);">Batch traceability</div>
<div class="t" style="left:1379.23px;top:595px;font-size:20.5px;font-weight:400;color:#141828;-webkit-text-stroke:0.35px #141828;transform:scaleX(0.9726);">Packaging automation</div>
<div class="t" style="left:63.58px;top:654px;font-size:22.7px;font-weight:700;color:#ffffff;-webkit-text-stroke:0.35px #ffffff;transform:scaleX(0.8157);">Plan based on real</div>
<div class="t" style="left:44.77px;top:683px;font-size:22.7px;font-weight:700;color:#ffffff;-webkit-text-stroke:0.35px #ffffff;transform:scaleX(0.8286);">data, not assumptions.</div>
<div class="t" style="left:335.60px;top:654px;font-size:22.7px;font-weight:700;color:#ffffff;-webkit-text-stroke:0.35px #ffffff;transform:scaleX(0.8032);">Fix the process first,</div>
<div class="t" style="left:324.10px;top:683px;font-size:22.7px;font-weight:700;color:#ffffff;-webkit-text-stroke:0.35px #ffffff;transform:scaleX(0.8113);">then increase capacity.</div>
<div class="t" style="left:613.18px;top:644px;font-size:22.7px;font-weight:700;color:#ffffff;-webkit-text-stroke:0.35px #ffffff;transform:scaleX(0.8233);">Good layout today,</div>
<div class="t" style="left:609.36px;top:673px;font-size:22.7px;font-weight:700;color:#ffffff;-webkit-text-stroke:0.35px #ffffff;transform:scaleX(0.8427);">better performance</div>
<div class="t" style="left:652.50px;top:702px;font-size:22.7px;font-weight:700;color:#ffffff;-webkit-text-stroke:0.35px #ffffff;transform:scaleX(0.8349);">tomorrow.</div>
<div class="t" style="left:886.77px;top:644px;font-size:22.7px;font-weight:700;color:#ffffff;-webkit-text-stroke:0.35px #ffffff;transform:scaleX(0.8280);">Strong utilities</div>
<div class="t" style="left:873.28px;top:673px;font-size:22.7px;font-weight:700;color:#ffffff;-webkit-text-stroke:0.35px #ffffff;transform:scaleX(0.8246);">ensure stable and</div>
<div class="t" style="left:880.28px;top:702px;font-size:22.7px;font-weight:700;color:#ffffff;-webkit-text-stroke:0.35px #ffffff;transform:scaleX(0.8244);">safe operations.</div>
<div class="t" style="left:1135.58px;top:645px;font-size:22.7px;font-weight:700;color:#ffffff;-webkit-text-stroke:0.35px #ffffff;transform:scaleX(0.8196);">Growth should</div>
<div class="t" style="left:1117.37px;top:673px;font-size:22.7px;font-weight:700;color:#ffffff;-webkit-text-stroke:0.35px #ffffff;transform:scaleX(0.8337);">strengthen control,</div>
<div class="t" style="left:1120.87px;top:702px;font-size:22.7px;font-weight:700;color:#ffffff;-webkit-text-stroke:0.35px #ffffff;transform:scaleX(0.8328);">not compromise it.</div>
<div class="t" style="left:1377.80px;top:647px;font-size:22.7px;font-weight:700;color:#ffffff;-webkit-text-stroke:0.35px #ffffff;transform:scaleX(0.7978);">Leverage technology</div>
<div class="t" style="left:1366.90px;top:675px;font-size:22.7px;font-weight:700;color:#ffffff;-webkit-text-stroke:0.35px #ffffff;transform:scaleX(0.7972);">to improve consistency</div>
<div class="t" style="left:1407.50px;top:703px;font-size:22.7px;font-weight:700;color:#ffffff;-webkit-text-stroke:0.35px #ffffff;transform:scaleX(0.8319);">and visibility.</div>
</body></html>
